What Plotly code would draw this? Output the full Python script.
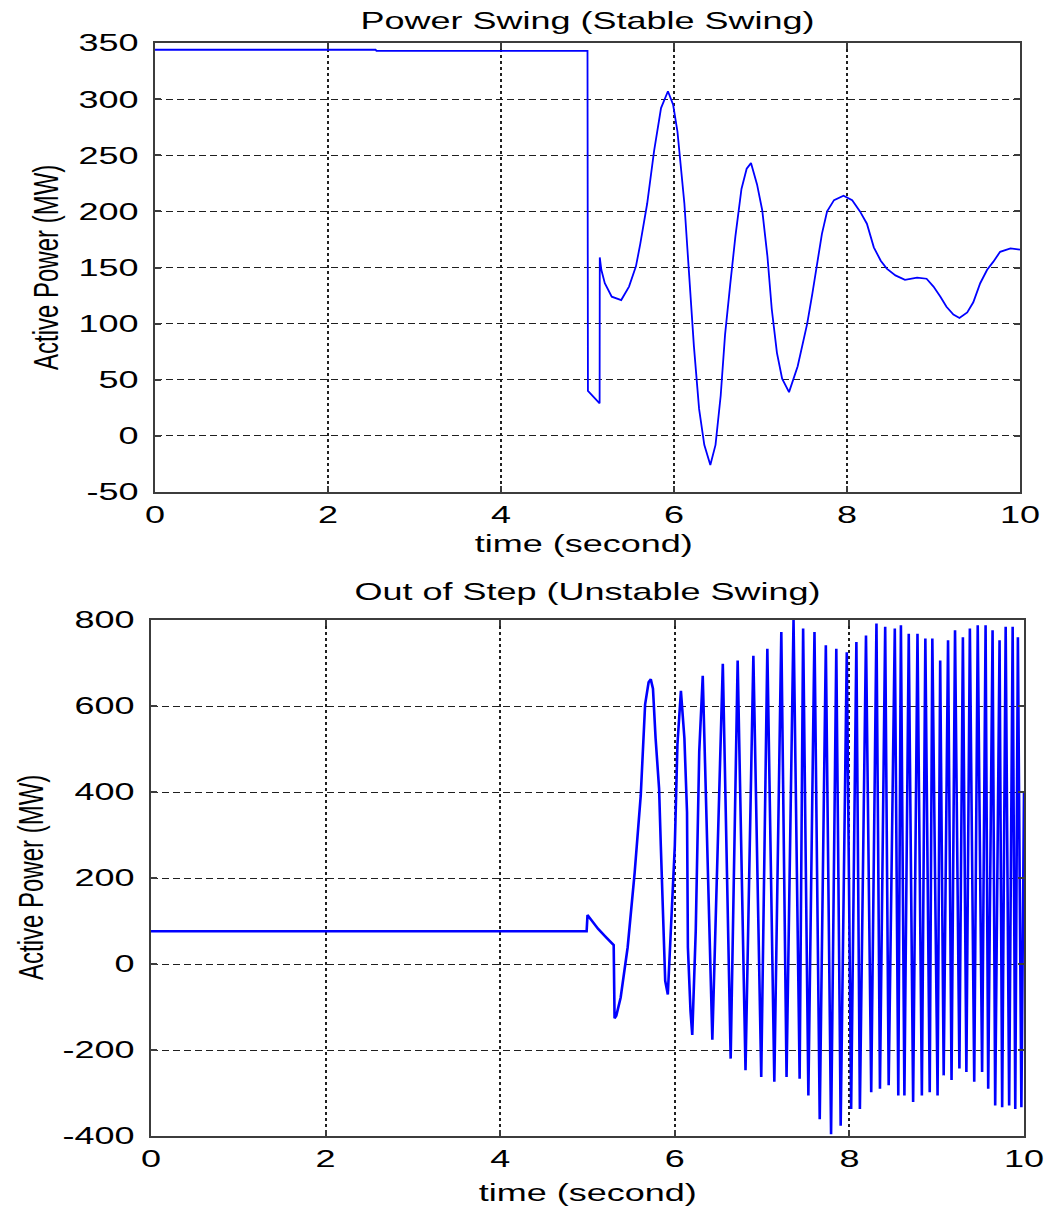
import plotly.graph_objects as go

# ---- Data: Power Swing (Stable Swing) ----
stable_t = [0, 2.55, 2.56, 5.0, 5.005, 5.14, 5.142, 5.16, 5.20, 5.28, 5.39, 5.48, 5.56, 5.61,
            5.69, 5.77, 5.85, 5.93, 5.99, 6.04, 6.12, 6.17, 6.23, 6.29, 6.35, 6.42, 6.48,
            6.54, 6.59, 6.65, 6.71, 6.78, 6.84, 6.89, 6.96, 7.02, 7.08, 7.13, 7.19, 7.25,
            7.33, 7.43, 7.48, 7.54, 7.60, 7.65, 7.71, 7.77, 7.85, 7.96, 8.06, 8.15, 8.23,
            8.31, 8.39, 8.46, 8.56, 8.67, 8.81, 8.92, 9.00, 9.08, 9.15, 9.23, 9.30, 9.39,
            9.46, 9.54, 9.62, 9.69, 9.77, 9.89, 9.98, 10.0]
stable_p = [344, 344, 343, 343, 40, 29, 159, 148, 136, 124, 121, 133, 151, 171,
            207, 254, 292, 307, 295, 271, 207, 148, 80, 24, -8, -26, -8,
            36, 90, 135, 178, 220, 238, 243, 224, 201, 160, 113, 74, 51,
            39, 62, 80, 100, 127, 150, 180, 200, 210, 214, 210, 200, 189,
            168, 156, 149, 143, 139, 141, 140, 133, 124, 115, 108, 105, 110,
            119, 136, 148, 155, 164, 167, 166, 166]

# ---- Data: Out of Step (Unstable Swing) ----
unstable_t = [0, 4.99, 5.0, 5.05, 5.12, 5.20, 5.30, 5.31, 5.33, 5.38, 5.46, 5.54, 5.61,
              5.66, 5.70, 5.725, 5.75, 5.78, 5.82, 5.84, 5.87, 5.89, 5.92, 5.94, 5.96,
              6.0, 6.03, 6.07, 6.11, 6.14, 6.15, 6.18, 6.20, 6.24, 6.28, 6.32, 6.43,
              6.55, 6.64, 6.72, 6.81, 6.90, 6.99, 7.06, 7.14, 7.22, 7.28, 7.36, 7.43,
              7.47, 7.53, 7.60, 7.66, 7.73, 7.79, 7.85, 7.90, 7.97, 8.02, 8.08, 8.12,
              8.19, 8.25, 8.31, 8.35, 8.41, 8.45, 8.52, 8.56, 8.59, 8.63, 8.68, 8.73,
              8.78, 8.83, 8.87, 8.92, 8.95, 9.01, 9.04, 9.08, 9.13, 9.17, 9.21, 9.26,
              9.30, 9.34, 9.38, 9.43, 9.47, 9.52, 9.56, 9.59, 9.64, 9.67, 9.72, 9.75,
              9.79, 9.83, 9.87, 9.90, 9.93, 9.97, 10.0]
unstable_p = [76, 76, 114, 100, 82, 65, 44, -126, -120, -78, 39, 212, 392,
              604, 655, 662, 640, 525, 408, 274, 71, -39, -71, 24, 118,
              274, 510, 635, 525, 353, 39, -110, -165, 78, 494, 670, -176,
              698, -220, 706, -247, 717, -263, 733, -274, 772, -263, 800, -267,
              780, -306, 772, -361, 741, -396, 733, -376, 725, -337, 749, -337,
              764, -298, 792, -290, 784, -282, 780, -306, 788, -306, 768, -321,
              768, -306, 757, -298, 757, -306, 706, -259, 753, -270, 776, -243,
              760, -251, 780, -274, 788, -251, 788, -290, 776, -329, 753, -333,
              784, -329, 784, -337, 760, -333, 400]

x_ticks = [0, 2, 4, 6, 8, 10]
x_labels = ["0", "2", "4", "6", "8", "10"]
stable_y_ticks = [-50, 0, 50, 100, 150, 200, 250, 300, 350]
stable_y_labels = ["-50", "0", "50", "100", "150", "200", "250", "300", "350"]
unstable_y_ticks = [-400, -200, 0, 200, 400, 600, 800]
unstable_y_labels = ["-400", "-200", "0", "200", "400", "600", "800"]

W, H = 1049, 1207
FONT = "Liberation Sans, Arial, sans-serif"
LINE = "#0000FF"

fig = go.Figure()
fig.add_trace(go.Scatter(x=stable_t, y=stable_p, mode="lines",
                         line=dict(color=LINE, width=1.8), xaxis="x", yaxis="y",
                         showlegend=False, hoverinfo="skip"))
fig.add_trace(go.Scatter(x=unstable_t, y=unstable_p, mode="lines",
                         line=dict(color=LINE, width=2.6), xaxis="x2", yaxis="y2",
                         showlegend=False, hoverinfo="skip"))


def px_x(p):
    return p / W


def px_y(p):
    return 1 - p / H


axis_common = dict(showline=True, linecolor="#3c3c3c", linewidth=1.5, mirror="ticks",
                   ticks="inside", ticklen=6, tickcolor="#3c3c3c", tickwidth=1.5,
                   showgrid=True, gridcolor="#202020", zeroline=False, automargin=False,
                   tickfont=dict(family=FONT, size=24, color="#000000"))

xgrid = dict(griddash="3px,3px", gridwidth=2, ticklabelstandoff=0)
ygrid = dict(griddash="7px,4px", gridwidth=1.4, ticklabelstandoff=10)

fig.update_layout(
    width=W, height=H, margin=dict(l=0, r=0, t=0, b=0),
    paper_bgcolor="white", plot_bgcolor="white",
    xaxis=dict(domain=[px_x(155), px_x(1020)], range=[0, 10], tickvals=x_ticks,
               ticktext=x_labels, anchor="y", **axis_common, **xgrid),
    yaxis=dict(domain=[px_y(492), px_y(43)], range=[-50, 350], tickvals=stable_y_ticks,
               ticktext=stable_y_labels, anchor="x", **axis_common, **ygrid),
    xaxis2=dict(domain=[px_x(151), px_x(1024)], range=[0, 10], tickvals=x_ticks,
                ticktext=x_labels, anchor="y2", **axis_common, **xgrid),
    yaxis2=dict(domain=[px_y(1136), px_y(620)], range=[-400, 800], tickvals=unstable_y_ticks,
                ticktext=unstable_y_labels, anchor="x2", **axis_common, **ygrid),
)

tfont = dict(family=FONT, size=24, color="#000000")
ann = [
    dict(text="Power Swing (Stable Swing)", x=px_x(587), y=px_y(21)),
    dict(text="time (second)", x=px_x(583), y=px_y(543)),
    dict(text="Active Power (MW)", x=px_x(46), y=px_y(268), textangle=-90),
    dict(text="Out of Step (Unstable Swing)", x=px_x(587), y=px_y(591)),
    dict(text="time (second)", x=px_x(587), y=px_y(1192)),
    dict(text="Active Power (MW)", x=px_x(30), y=px_y(878), textangle=-90),
]
for a in ann:
    fig.add_annotation(xref="paper", yref="paper", showarrow=False,
                       xanchor="center", yanchor="middle", font=tfont, **a)

# The reference's lettering is horizontally widened (about 1.5x); widen the real SVG text the same way.
post = """
(function(){
  var gd = document.getElementById('{plot_id}');
  if (!gd) return;
  var texts = gd.querySelectorAll('text');
  texts.forEach(function(t){
    if (t.getAttribute('data-wide')) return;
    var bb;
    try { bb = t.getBBox(); } catch(e) { return; }
    if (!bb || !bb.width) return;
    var rot = false, el = t;
    while (el && el.tagName && el.tagName.toLowerCase() !== 'svg') {
      var tr0 = el.getAttribute && el.getAttribute('transform');
      if (tr0 && /rotate\\(\\s*-?90/.test(tr0)) rot = true;
      el = el.parentNode;
    }
    var anchor = t.getAttribute('text-anchor') || 'start';
    var cx = bb.x;
    if (anchor === 'end') cx = bb.x + bb.width;
    else if (anchor === 'middle') cx = bb.x + bb.width / 2;
    var cy = bb.y + bb.height / 2;
    var s = rot ? 'scale(1,1.5)' : 'scale(1.5,1)';
    var tr = t.getAttribute('transform') || '';
    t.setAttribute('transform', tr + ' translate(' + cx + ',' + cy + ') ' + s +
                   ' translate(' + (-cx) + ',' + (-cy) + ')');
    t.setAttribute('data-wide', '1');
  });
})();
"""

fig.write_html("out.html", post_script=post, config={"displayModeBar": False})
